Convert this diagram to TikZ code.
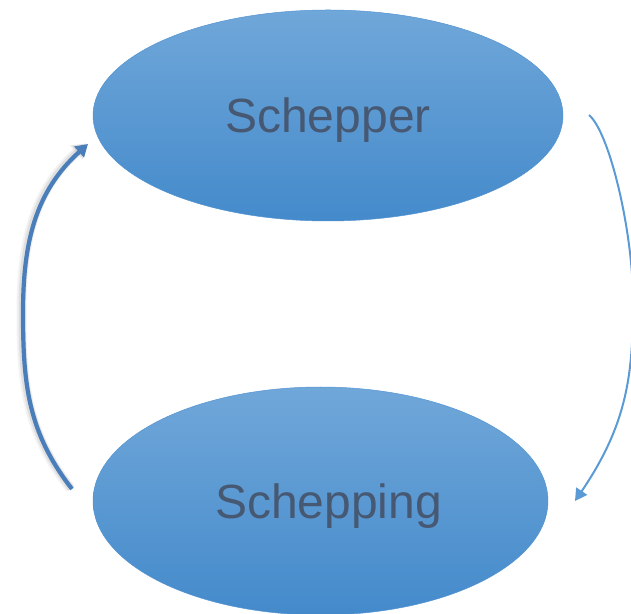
\documentclass[tikz,border=0pt]{standalone}
\usepackage{fontspec}
\setmainfont{Liberation Sans}
\usetikzlibrary{shapes.geometric,arrows.meta}
\definecolor{topc}{RGB}{112,167,217}
\definecolor{midc}{RGB}{88,155,216}
\definecolor{botc}{RGB}{68,138,203}
\definecolor{edgec}{RGB}{84,148,210}
\definecolor{txtc}{RGB}{70,88,114}
\definecolor{arrA}{RGB}{74,126,187}
\definecolor{arrB}{RGB}{91,155,213}
\tikzset{
  blob/.style={ellipse, draw=edgec, line width=0.5pt, top color=topc, middle color=midc, bottom color=botc, inner sep=0pt, text=txtc, font=\fontsize{48}{58}\selectfont, text height=34.4pt, text depth=0pt},
  thickarrow/.style={draw=arrA, line width=4.2pt, -{Triangle[length=12pt,width=14pt]},
    preaction={draw=black, opacity=0.05, line width=10pt, transform canvas={xshift=-1.5pt,yshift=0.5pt}, -{Triangle[length=14pt,width=19pt]}},
    preaction={draw=black, opacity=0.08, line width=7pt, transform canvas={xshift=-1pt,yshift=0.5pt}, -{Triangle[length=13pt,width=17pt]}}},
  thinarrow/.style={draw=arrB, line width=2pt, -{Triangle[length=12pt,width=13pt]}}
}
\begin{document}
\begin{tikzpicture}[x=1pt,y=1pt]
\useasboundingbox (0,0) rectangle (631,613);
\node[blob, minimum width=470pt, minimum height=211pt] (schepper) at (328,497.5) {Schepper};
\node[blob, minimum width=455pt, minimum height=228pt] (schepping) at (320.5,112) {\hspace*{16pt}Schepping};
\coordinate (ltail) at (72,124);
\coordinate (lmid) at (23,300);
\coordinate (ltip) at (88,469);
\coordinate (rtail) at (589,498);
\coordinate (rmid) at (633,313);
\coordinate (rtip) at (575,112);
\draw[thickarrow] (ltail) to[out=128,in=-90] (lmid) to[out=90,in=-138] (ltip);
\draw[thinarrow] (rtail) .. controls (610,480) and (633,380) .. (rmid) .. controls (633,240) and (628,190) .. (rtip);
\end{tikzpicture}
\end{document}
